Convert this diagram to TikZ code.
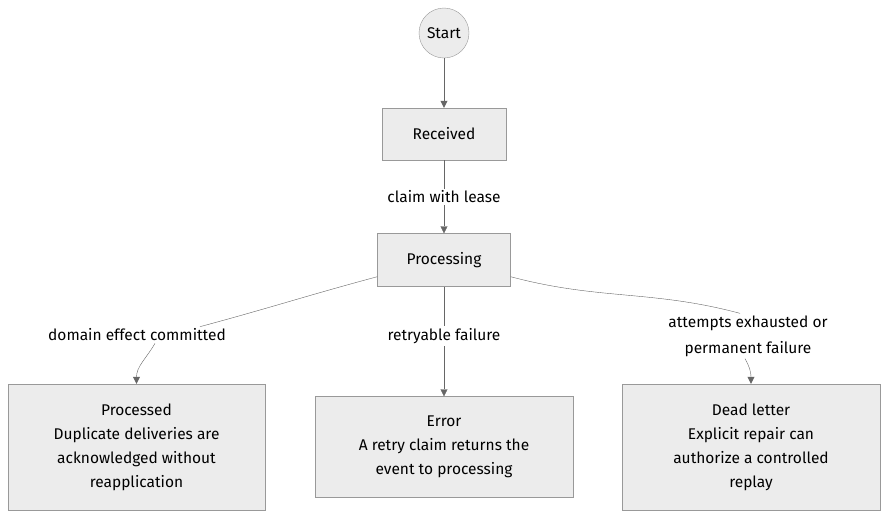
\documentclass[tikz,border=0pt]{standalone}
\usepackage{fontspec}
\setmainfont{Fira Sans}
\usetikzlibrary{arrows.meta}
\definecolor{boxfill}{HTML}{ECECEC}
\definecolor{boxline}{HTML}{999999}
\definecolor{edge}{HTML}{666666}
\tikzset{
  state/.style={draw=boxline, fill=boxfill, align=center, font=\fontsize{15.5}{24}\selectfont},
  start/.style={state, circle, minimum size=50pt, inner sep=0pt},
  edgelabel/.style={fill=white, align=center, font=\fontsize{15.5}{26}\selectfont, inner sep=2pt},
  flow/.style={draw=edge, -{Triangle[length=7pt,width=7pt]}},
  link/.style={draw=edge},
}
\begin{document}
\begin{tikzpicture}[x=1pt, y=-1pt]
    \useasboundingbox (0,0) rectangle (896,523);
    % states
    \node[start] (st) at (444,33) {Start};
    \node[state, minimum width=124pt, minimum height=52pt] (rec) at (444,134) {Received};
    \node[state, minimum width=133pt, minimum height=53pt] (proc) at (444,260) {Processing};
    \node[state, minimum width=257pt, minimum height=126pt] (done) at (136.5,447) {Processed\\Duplicate deliveries are\\acknowledged without\\reapplication};
    \node[state, minimum width=258pt, minimum height=101pt] (err) at (444,447) {Error\\A retry claim returns the\\event to processing};
    \node[state, minimum width=258pt, minimum height=126pt] (dead) at (751,447) {Dead letter\\Explicit repair can\\authorize a controlled\\replay};
    % labels on the side transitions
    \node[edgelabel] (lbldone) at (137,335) {domain effect committed};
    \node[edgelabel] (lbldead) at (748,336) {attempts exhausted or\\permanent failure};
    % transitions
    \draw[flow] (st) -- (rec);
    \draw[flow] (rec) -- node[edgelabel] {claim with lease} (proc);
    \draw[link] (proc.south west) ++(0,-10) to[out=195, in=15] (lbldone.north -| 200,0);
    \draw[flow] (lbldone.south -| 155,0) to[out=240, in=90] (done.north);
    \draw[flow] (proc) -- node[edgelabel, pos=0.45] {retryable failure} (err);
    \draw[link] (proc.south east) ++(0,-10) to[out=-15, in=165] (lbldead.north -| 740,0);
    \draw[flow] (lbldead.south -| 745,0) to[out=-60, in=90] (dead.north);
\end{tikzpicture}
\end{document}
